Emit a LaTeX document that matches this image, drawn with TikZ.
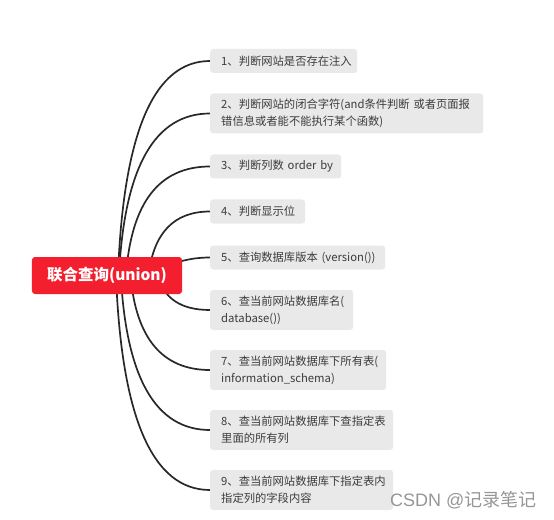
\documentclass[tikz,border=0pt]{standalone}
\usepackage{fontspec}
\newfontfamily\cjk{Noto Sans CJK SC}
\newfontfamily\wmfont{Liberation Sans}
\usetikzlibrary{positioning}
\pgfdeclarelayer{bg}
\pgfsetlayers{bg,main}
\definecolor{rootred}{RGB}{243,31,46}
\definecolor{boxgray}{RGB}{233,233,233}
\definecolor{txtgray}{RGB}{60,60,60}
\definecolor{linecol}{RGB}{40,40,40}
\definecolor{wmgray}{RGB}{150,150,150}
\tikzset{
  rootbox/.style={fill=rootred, rounded corners=3bp, minimum width=150bp, minimum height=37bp,
    text=white, font=\cjk\bfseries\fontsize{15.5bp}{18bp}\selectfont, inner sep=0pt},
  itembox/.style={fill=boxgray, rounded corners=3bp, anchor=west, inner xsep=11bp, inner ysep=0pt,
    text=txtgray, align=left, font=\cjk\fontsize{11.3bp}{17bp}\selectfont},
  onebox/.style={itembox, minimum height=24bp},
  twobox/.style={itembox, minimum height=40bp},
  conn/.style={draw=linecol, line width=1.7bp},
}
\begin{document}
\begin{tikzpicture}[x=1bp, y=-1bp]
\useasboundingbox (0,0) rectangle (554,520);
\node[rootbox] (root) at (107,275.5) {联合查询(union)};
\node[onebox, text width=125bp] (n1) at (210,61) {\mbox{1、判断网站是否存在注入}};
\node[twobox, text width=251bp] (n2) at (210,113.5) {2、判断网站的闭合字符(and条件判断 或者页面报\\错信息或者能不能执行某个函数)};
\node[onebox, text width=109bp] (n3) at (210,166.5) {\mbox{3、判断列数 order by}};
\node[onebox, text width=73bp] (n4) at (210,211.5) {\mbox{4、判断显示位}};
\node[onebox, text width=153bp] (n5) at (210,257.5) {\mbox{5、查询数据库版本 (version())}};
\node[twobox, text width=121bp] (n6) at (210,310) {6、查当前网站数据库名(\\database())};
\node[twobox, text width=154bp] (n7) at (210,370) {7、查当前网站数据库下所有表(\\information\_schema)};
\node[twobox, text width=161bp] (n8) at (210,430) {8、查当前网站数据库下查指定表\\里面的所有列};
\node[twobox, text width=161bp] (n9) at (210,490) {9、查当前网站数据库下指定表内\\指定列的字段内容};
\coordinate (s1) at (118,275);
\coordinate (s2) at (119,275);
\coordinate (s3) at (126,275);
\coordinate (s4) at (148.5,275);
\coordinate (s5) at (150,272);
\coordinate (s6) at (158,275);
\coordinate (s7) at (130.5,275);
\coordinate (s8) at (120.8,275);
\coordinate (s9) at (116,275);
\begin{pgfonlayer}{bg}
\draw[conn] (s1) .. controls +(5.3,-142.7) and +(-56,0) .. (n1.west);
\draw[conn] (s2) .. controls +(5.3,-108) and +(-55.3,0) .. (n2.west);
\draw[conn] (s3) .. controls +(5.3,-72.7) and +(-50.7,0) .. (n3.west);
\draw[conn] (s4) .. controls +(5.3,-42.7) and +(-35.7,0) .. (n4.west);
\draw[conn] (s5) .. controls +(25,-10) and +(-20,0) .. (n5.west);
\draw[conn] (s6) .. controls +(5.3,23.3) and +(-29.3,0) .. (n6.west);
\draw[conn] (s7) .. controls +(5.3,63.3) and +(-47.7,0) .. (n7.west);
\draw[conn] (s8) .. controls +(5.3,103.3) and +(-54.1,0) .. (n8.west);
\draw[conn] (s9) .. controls +(5.3,143.3) and +(-57.3,0) .. (n9.west);
\end{pgfonlayer}
\node[text=wmgray, font=\fontsize{18bp}{20bp}\selectfont, inner sep=0pt, anchor=west] (wm) at (390,500) {\wmfont CSDN @\cjk 记录笔记};
\end{tikzpicture}
\end{document}
